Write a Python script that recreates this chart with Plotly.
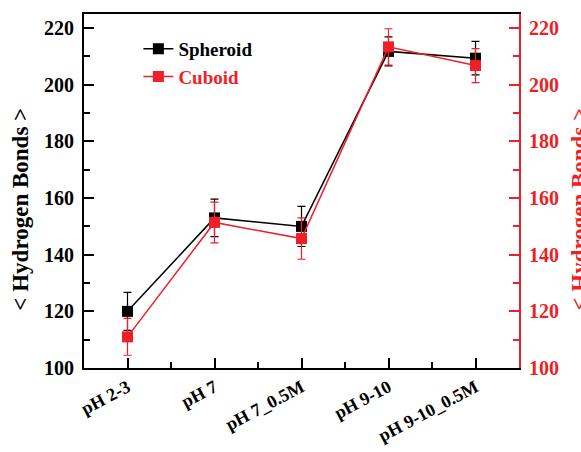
import plotly.graph_objects as go

categories = ["pH 2-3", "pH 7", "pH 7_0.5M", "pH 9-10", "pH 9-10_0.5M"]
spheroid = [120.0, 153.0, 150.0, 211.8, 209.4]
spheroid_err = [6.7, 6.6, 7.1, 5.1, 5.9]
cuboid = [111.0, 151.4, 145.7, 213.4, 206.8]
cuboid_err = [6.5, 7.2, 7.3, 6.4, 6.0]
y_ticks = [100, 120, 140, 160, 180, 200, 220]

RED = "#ee1f26"
FONT = "'Liberation Serif', 'Times New Roman', 'DejaVu Serif', serif"
xpos = list(range(1, len(categories) + 1))

fig = go.Figure()
fig.add_trace(go.Scatter(
    x=xpos, y=spheroid, name="<b>Spheroid</b>", mode="lines+markers",
    line=dict(color="black", width=1.5),
    marker=dict(symbol="square", size=11, color="black"),
    error_y=dict(type="data", array=spheroid_err, color="black", thickness=1.2, width=4),
))
fig.add_trace(go.Scatter(
    x=xpos, y=cuboid, name="<b><span style='color:%s'>Cuboid</span></b>" % RED,
    mode="lines+markers", yaxis="y2",
    line=dict(color=RED, width=1.5),
    marker=dict(symbol="square", size=11, color=RED),
    error_y=dict(type="data", array=cuboid_err, color=RED, thickness=1.2, width=4),
))

tickfont = dict(family=FONT, size=20, color="black")
fig.update_layout(
    width=581, height=452,
    margin=dict(l=84, r=62, t=14, b=84, autoexpand=False),
    paper_bgcolor="white", plot_bgcolor="white",
    font=dict(family=FONT),
    showlegend=True,
    legend=dict(x=0.125, y=0.955, xanchor="left", yanchor="top",
                font=dict(family=FONT, size=19, color="black"),
                bgcolor="rgba(0,0,0,0)", tracegroupgap=0, itemwidth=30),
    xaxis=dict(
        range=[0.5, 5.5], tickvals=xpos, ticktext=["<b>%s</b>" % c for c in categories],
        tickangle=-28, tickfont=dict(family=FONT, size=18, color="black"), automargin=False,
        ticks="inside", ticklen=10, tickwidth=2, tickcolor="black",
        minor=dict(tickvals=[1.5, 2.5, 3.5, 4.5], ticks="inside", ticklen=6, tickwidth=2, tickcolor="black"),
        showline=True, linecolor="black", linewidth=2, mirror=True,
        showgrid=False, zeroline=False, ticklabelstandoff=0,
    ),
    yaxis=dict(
        range=[100, 225], tickvals=y_ticks, ticktext=["<b>%d</b>" % v for v in y_ticks],
        tickfont=tickfont, ticks="inside", ticklen=10, tickwidth=2, tickcolor="black",
        minor=dict(dtick=10, tick0=100, ticks="inside", ticklen=6, tickwidth=2, tickcolor="black"),
        showline=True, linecolor="black", linewidth=2, automargin=False,
        showgrid=False, zeroline=False, ticklabelstandoff=4,
    ),
    yaxis2=dict(
        range=[100, 225], overlaying="y", side="right",
        tickvals=y_ticks, ticktext=["<b>%d</b>" % v for v in y_ticks],
        tickfont=dict(family=FONT, size=20, color=RED),
        ticks="inside", ticklen=10, tickwidth=2, tickcolor=RED,
        minor=dict(dtick=10, tick0=100, ticks="inside", ticklen=6, tickwidth=2, tickcolor=RED),
        showline=True, linecolor=RED, linewidth=2, automargin=False,
        showgrid=False, zeroline=False, ticklabelstandoff=4,
    ),
    annotations=[
        dict(text="<b>< Hydrogen Bonds ></b>", xref="paper", yref="paper",
             x=-0.145, y=0.45, xanchor="center", yanchor="middle", textangle=-90,
             showarrow=False, font=dict(family=FONT, size=23, color="black")),
        dict(text="<b>< Hydrogen Bonds ></b>", xref="paper", yref="paper",
             x=1.14, y=0.45, xanchor="center", yanchor="middle", textangle=-90,
             showarrow=False, font=dict(family=FONT, size=23, color=RED)),
    ],
)

fig.write_html("out.html")
